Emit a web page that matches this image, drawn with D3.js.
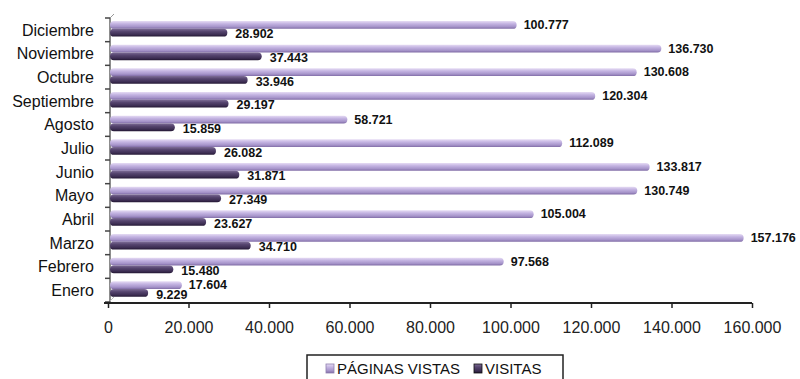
<!DOCTYPE html>
<html><head><meta charset="utf-8">
<script src="https://cdn.jsdelivr.net/npm/d3@7"></script>
<style>html,body{margin:0;padding:0;background:#fff;}svg{display:block;font-family:"Liberation Sans",Arial,sans-serif;}</style>
</head><body>
<svg id="c" width="800" height="379"></svg>
<script>
const months = ["Diciembre","Noviembre","Octubre","Septiembre","Agosto","Julio","Junio","Mayo","Abril","Marzo","Febrero","Enero"];
const paginas = [100777,136730,130608,120304,58721,112089,133817,130749,105004,157176,97568,17604];
const visitas = [28902,37443,33946,29197,15859,26082,31871,27349,23627,34710,15480,9229];
const seriesNames = ["PÁGINAS VISTAS","VISITAS"];
const xTicks = [0,20000,40000,60000,80000,100000,120000,140000,160000];

const fmt = v => d3.format(",")(v).replace(/,/g,".");
const svg = d3.select("#c");
const x = d3.scaleLinear().domain([0,160000]).range([108,752]);
const y = d3.scaleBand().domain(months).range([18,302]);
const sub = d3.scaleBand().domain(seriesNames).range([3,18.5]);

const defs = svg.append("defs");
function grad(id, stops){
  const g = defs.append("linearGradient").attr("id",id).attr("x1",0).attr("y1",0).attr("x2",0).attr("y2",1);
  stops.forEach(s=>g.append("stop").attr("offset",s[0]).attr("stop-color",s[1]));
}
grad("gP",[[0,"#e6dcf4"],[0.35,"#c4b4e2"],[0.75,"#a593c9"],[1,"#7f6ba5"]]);
grad("gV",[[0,"#7d6c96"],[0.35,"#56456f"],[0.75,"#3d2e53"],[1,"#231733"]]);

// y axis wall
svg.append("line").attr("x1",110).attr("x2",110).attr("y1",y.range()[0]).attr("y2",y.range()[1])
  .attr("stroke","#666").attr("stroke-width",1.5);
svg.append("line").attr("x1",110).attr("x2",114).attr("y1",y.range()[0]).attr("y2",y.range()[0]-4)
  .attr("stroke","#999").attr("stroke-width",1);
svg.append("line").attr("x1",110).attr("x2",114).attr("y1",y.range()[1]-1).attr("y2",y.range()[1]-5)
  .attr("stroke","#bbb").attr("stroke-width",1);
const bounds = months.map(m=>y(m)).concat([y.range()[1]]);
svg.selectAll(".yt").data(bounds).join("line")
  .attr("x1",105).attr("x2",110).attr("y1",d=>d).attr("y2",d=>d)
  .attr("stroke","#444").attr("stroke-width",1.5);
svg.selectAll(".yl").data(months).join("text")
  .attr("x",94).attr("y",m=>y(m)+y.bandwidth()/2).attr("dy","0.36em")
  .attr("text-anchor","end").attr("font-size",16).attr("fill","#111").text(m=>m);

// bars
const rows = months.map((m,i)=>({m, vals:[{s:seriesNames[0],v:paginas[i]},{s:seriesNames[1],v:visitas[i]}]}));
const g = svg.append("g");
rows.forEach(r=>{
  r.vals.forEach(d=>{
    const yy = y(r.m)+sub(d.s);
    const h = sub.bandwidth();
    const fill = d.s===seriesNames[0] ? "url(#gP)" : "url(#gV)";
    g.append("rect").attr("x",x(0)+2).attr("y",yy).attr("width",x(d.v)-x(0)+1).attr("height",h)
      .attr("rx",h/2).attr("ry",h/2).attr("fill",fill);
    g.append("text").attr("x",x(d.v)+ (d.s===seriesNames[0]?10:11))
      .attr("y",yy+h/2 + (d.s===seriesNames[0]?0:1.5)).attr("dy","0.34em")
      .attr("font-size",12.5).attr("font-weight","bold").attr("fill","#111").text(fmt(d.v));
  });
});

// x axis
const xAxis = d3.axisBottom(x).tickValues(xTicks).tickFormat(fmt).tickSize(5).tickSizeOuter(0);
const ax = svg.append("g").attr("transform","translate(0,303)").call(xAxis);
ax.select(".domain").attr("stroke","#222").attr("stroke-width",2).attr("d","M104,0H752");
ax.selectAll(".tick line").attr("stroke","#222").attr("stroke-width",1.5);
ax.selectAll(".tick text").attr("font-size",16).attr("fill","#222").attr("font-family","'Liberation Sans',Arial,sans-serif").attr("dy","1.4em");

// legend
const lg = svg.append("g");
lg.append("rect").attr("x",307).attr("y",355).attr("width",256).attr("height",30).attr("fill","#fff").attr("stroke","#222").attr("stroke-width",1.5);
const legX = [326,474];
seriesNames.forEach((s,i)=>{
  lg.append("rect").attr("x",legX[i]).attr("y",364).attr("width",8).attr("height",9)
    .attr("fill", i===0?"url(#gP)":"url(#gV)").attr("stroke", i===0?"#8f7fb0":"#111").attr("stroke-width",0.8);
  lg.append("text").attr("x",legX[i]+11).attr("y",369).attr("dy","0.36em").attr("font-size",15).attr("fill","#111").text(s);
});
</script>
</body></html>
